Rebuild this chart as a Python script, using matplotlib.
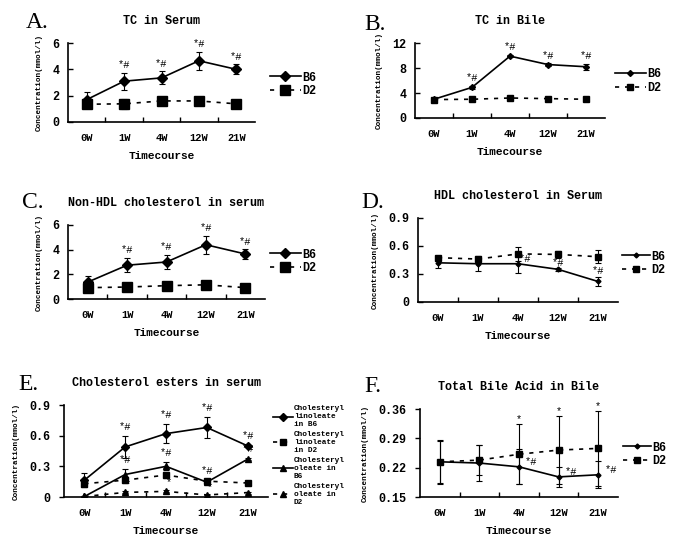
import numpy as np
import matplotlib
matplotlib.use("Agg")
import matplotlib.pyplot as plt
from matplotlib.lines import Line2D

plt.rcParams['font.family'] = ['Liberation Mono', 'DejaVu Sans Mono']

categories = ['0W', '1W', '4W', '12W', '21W']

# Panel A: TC in Serum
A_b6 = [1.7, 3.1, 3.35, 4.65, 4.0]
A_b6_err = [0.55, 0.65, 0.5, 0.7, 0.37]
A_d2 = [1.35, 1.38, 1.6, 1.6, 1.38]
A_d2_err = [0.25, 0.38, 0.2, 0.15, 0.15]
A_marks = ['', '*#', '*#', '*#', '*#']

# Panel B: TC in Bile
B_b6 = [3.0, 4.9, 9.9, 8.55, 8.2]
B_b6_err = [0.15, 0.2, 0.2, 0.2, 0.45]
B_d2 = [2.95, 3.0, 3.2, 3.1, 3.0]
B_d2_err = [0.1, 0.1, 0.1, 0.1, 0.1]
B_marks = ['', '*#', '*#', '*#', '*#']

# Panel C: Non-HDL cholesterol in serum
C_b6 = [1.37, 2.74, 3.0, 4.4, 3.65]
C_b6_err = [0.5, 0.57, 0.55, 0.72, 0.38]
C_d2 = [0.92, 0.97, 1.08, 1.15, 0.92]
C_d2_err = [0.3, 0.35, 0.2, 0.15, 0.25]
C_marks = ['', '*#', '*#', '*#', '*#']

# Panel D: HDL cholesterol in Serum
D_b6 = [0.42, 0.41, 0.41, 0.35, 0.22]
D_b6_err = [0.06, 0.08, 0.10, 0.015, 0.05]
D_d2 = [0.475, 0.46, 0.515, 0.51, 0.485]
D_d2_err = [0.02, 0.02, 0.075, 0.04, 0.07]
D_marks = ['', '', '*#', '*#', '*#']

# Panel E: Cholesterol esters in serum
E_lin_b6 = [0.165, 0.49, 0.62, 0.68, 0.50]
E_lin_b6_err = [0.065, 0.11, 0.09, 0.10, 0.01]
E_lin_d2 = [0.13, 0.165, 0.215, 0.155, 0.137]
E_lin_d2_err = [0.02, 0.03, 0.03, 0.02, 0.01]
E_ole_b6 = [0.005, 0.22, 0.30, 0.145, 0.37]
E_ole_b6_err = [0.005, 0.05, 0.04, 0.02, 0.01]
E_ole_d2 = [0.005, 0.045, 0.055, 0.02, 0.043]
E_ole_d2_err = [0.003, 0.01, 0.01, 0.005, 0.01]
E_lin_marks = ['', '*#', '*#', '*#', '*#']
E_ole_marks = ['', '*#', '*#', '*#', '*#']
E_d2_marks = ['', '*', '*', '*', '*']
E_labels = ['Cholesteryl\nlinoleate\nin B6', 'Cholesteryl\nlinoleate\nin D2',
            'Cholesteryl\noleate in\nB6', 'Cholesteryl\noleate in\nD2']

# Panel F: Total Bile Acid in Bile
F_b6 = [0.234, 0.231, 0.222, 0.198, 0.203]
F_b6_err = [0.05, 0.042, 0.042, 0.023, 0.032]
F_d2 = [0.234, 0.238, 0.252, 0.262, 0.266]
F_d2_err = [0.053, 0.036, 0.072, 0.082, 0.09]
F_b6_marks = ['', '', '*#', '*#', '*#']
F_d2_marks = ['', '', '*', '*', '*']

W, H = 685, 551
fig = plt.figure(figsize=(W / 100, H / 100), dpi=100)
fig.patch.set_facecolor('white')

def box(l, t, r, b):
    return [l / W, 1 - b / H, (r - l) / W, (b - t) / H]

def fpt(px, py):
    return (px / W, 1 - py / H)

x = np.arange(len(categories))
SOLID = '-'
DASH = (0, (2.5, 3.5))

def setup(ax, title, letter, letter_xy, yticks, ylim, yfmt, ytickdir='in'):
    ax.set_xlim(-0.5, len(categories) - 0.5)
    ax.set_ylim(*ylim)
    ax.set_xticks(x)
    ax.set_xticklabels(categories, fontsize=7.5, fontweight='bold')
    ax.tick_params(axis='x', which='major', length=0, pad=8)
    ax.set_xticks(np.arange(0.5, len(categories) - 1, 1), minor=True)
    ax.tick_params(axis='x', which='minor', direction='in', length=3.5, width=1)
    ax.set_yticks(yticks)
    ax.set_yticklabels([yfmt.format(v) for v in yticks], fontsize=8.5, fontweight='bold')
    ax.tick_params(axis='y', direction=ytickdir, length=3.5, width=1, pad=6)
    for s in ['top', 'right']:
        ax.spines[s].set_visible(False)
    for s in ['left', 'bottom']:
        ax.spines[s].set_linewidth(1.2)
    ax.set_title(title, fontsize=8.5, fontweight='bold', pad=14)
    ax.set_xlabel('Timecourse', fontsize=8, fontweight='bold', labelpad=6)
    ax.set_ylabel('Concentration(mmol/l)', fontsize=5.5, fontweight='bold', labelpad=7)
    fig.text(*fpt(*letter_xy), letter, fontsize=17, family='Liberation Serif',
             ha='left', va='center')

def series(ax, y, err, marker, ms, ls):
    ax.errorbar(x, y, yerr=err, color='black', marker=marker, ms=ms, lw=1.2,
                linestyle=ls, elinewidth=0.8, capsize=2.5, capthick=0.8)

def marks(ax, y, err, texts, dx=0, dy=2, size=7.5):
    for xi, yi, ei, t in zip(x, y, err, texts):
        if t:
            ax.annotate(t, xy=(xi, yi + ei), xytext=(dx, dy), textcoords='offset points',
                        ha='center', va='bottom', fontsize=size)

def legend2(ax, ms_b6, ms_d2, m_b6, m_d2, anchor_px, hl=2.6):
    h = [Line2D([], [], color='black', marker=m_b6, ms=ms_b6, lw=1.2, ls=SOLID),
         Line2D([], [], color='black', marker=m_d2, ms=ms_d2, lw=1.2, ls=DASH)]
    ax.legend(h, ['B6', 'D2'], loc='center left', bbox_to_anchor=fpt(*anchor_px),
              bbox_transform=fig.transFigure, frameon=False, borderpad=0, borderaxespad=0,
              handlelength=hl, handletextpad=0.1, labelspacing=0.15,
              prop={'weight': 'bold', 'size': 8.5})

# A
axA = fig.add_axes(box(68, 43, 255, 122))
series(axA, A_d2, A_d2_err, 's', 7, DASH)
series(axA, A_b6, A_b6_err, 'D', 5, SOLID)
marks(axA, A_b6, A_b6_err, A_marks)
setup(axA, 'TC in Serum', 'A.', (26, 22), [0, 2, 4, 6], (0, 6), '{:g}')
legend2(axA, 5, 7, 'D', 's', (270, 84.5))

# B
axB = fig.add_axes(box(415, 43, 605, 118))
series(axB, B_d2, B_d2_err, 's', 4, DASH)
series(axB, B_b6, B_b6_err, 'D', 3, SOLID)
marks(axB, B_b6, B_b6_err, B_marks)
setup(axB, 'TC in Bile', 'B.', (364, 25), [0, 4, 8, 12], (0, 12), '{:g}')
legend2(axB, 3, 4, 'D', 's', (615, 81))

# C
axC = fig.add_axes(box(68, 225, 265, 299))
series(axC, C_d2, C_d2_err, 's', 7, DASH)
series(axC, C_b6, C_b6_err, 'D', 5, SOLID)
marks(axC, C_b6, C_b6_err, C_marks)
setup(axC, 'Non-HDL cholesterol in serum', 'C.', (22, 202), [0, 2, 4, 6], (0, 6), '{:g}')
legend2(axC, 5, 7, 'D', 's', (270, 261.5))

# D
axD = fig.add_axes(box(418, 218, 618, 302))
series(axD, D_d2, D_d2_err, 's', 4, DASH)
series(axD, D_b6, D_b6_err, 'D', 2.5, SOLID)
for xi, yi, t, dx, dy in zip(x, D_b6, D_marks, [0, 0, 5, 0, 0], [0, 0, 0, 1, 4]):
    if t:
        axD.annotate(t, xy=(xi, yi), xytext=(dx, dy), textcoords='offset points',
                     ha='center', va='bottom', fontsize=7.5)
setup(axD, 'HDL cholesterol in Serum', 'D.', (361, 202), [0, 0.3, 0.6, 0.9], (0, 0.9),
      '{:g}', 'in')
legend2(axD, 2.5, 4, 'D', 's', (622, 263.5), hl=2.4)

# E
axE = fig.add_axes(box(64, 405, 268, 497))
series(axE, E_lin_b6, E_lin_b6_err, 'D', 4, SOLID)
series(axE, E_lin_d2, E_lin_d2_err, 's', 5, DASH)
series(axE, E_ole_b6, E_ole_b6_err, '^', 4.5, SOLID)
series(axE, E_ole_d2, E_ole_d2_err, '^', 4, DASH)
marks(axE, E_lin_b6, E_lin_b6_err, E_lin_marks, dy=3)
marks(axE, E_ole_b6, E_ole_b6_err, E_ole_marks, dy=3)
marks(axE, E_ole_d2, E_ole_d2_err, E_d2_marks, dx=2, dy=2)
setup(axE, 'Cholesterol esters in serum', 'E.', (18, 384), [0, 0.3, 0.6, 0.9], (0, 0.9),
      '{:g}', 'out')
hE = [Line2D([], [], color='black', marker='D', ms=4, lw=1.2, ls=SOLID),
      Line2D([], [], color='black', marker='s', ms=5, lw=1.2, ls=DASH),
      Line2D([], [], color='black', marker='^', ms=4.5, lw=1.2, ls=SOLID),
      Line2D([], [], color='black', marker='^', ms=4, lw=1.2, ls=DASH)]
legE = axE.legend(hE, E_labels, loc='upper left', bbox_to_anchor=fpt(273, 405),
                  bbox_transform=fig.transFigure, frameon=False, borderpad=0, borderaxespad=0,
                  handlelength=2.6, handletextpad=0.1, labelspacing=0.3,
                  prop={'weight': 'bold', 'size': 5.6})
for t in legE.get_texts():
    t.set_linespacing(1.25)

# F
axF = fig.add_axes(box(420, 409, 618, 497))
series(axF, F_d2, F_d2_err, 's', 5, DASH)
series(axF, F_b6, F_b6_err, 'D', 2.5, SOLID)
marks(axF, F_d2, F_d2_err, F_d2_marks, dy=0)
for xi, yi, t in zip(x, F_b6, F_b6_marks):
    if t:
        axF.annotate(t, xy=(xi, yi), xytext=(9, 0), textcoords='offset points',
                     ha='center', va='bottom', fontsize=7.5)
setup(axF, 'Total Bile Acid in Bile', 'F.', (364, 387), [0.15, 0.22, 0.29, 0.36],
      (0.15, 0.36), '{:.2f}', 'out')
legend2(axF, 2.5, 5, 'D', 's', (623, 454.5), hl=2.4)

fig.savefig('out.png', dpi=100, facecolor='white')
